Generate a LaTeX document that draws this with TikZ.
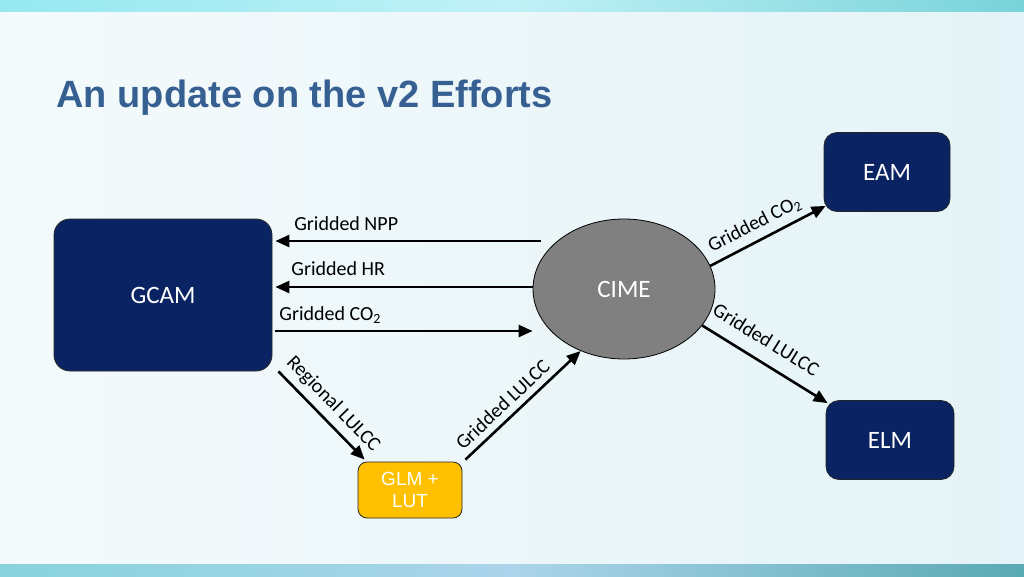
\documentclass[tikz,border=0pt]{standalone}
\usepackage{fontspec}
\setmainfont{Carlito}
\newfontfamily\arialfont{Liberation Sans}
\usetikzlibrary{arrows.meta,calc,shapes.geometric}
\definecolor{navybox}{RGB}{10,36,99}
\definecolor{cimegray}{RGB}{128,128,128}
\definecolor{glmamber}{RGB}{255,192,0}
\definecolor{titleblue}{RGB}{55,96,146}
\definecolor{bgpale}{RGB}{228,243,247}
\definecolor{bandtop}{RGB}{150,232,240}
\definecolor{bandbot}{RGB}{105,200,210}

\begin{document}
\begin{tikzpicture}[x=1pt, y=-1pt,
  every node/.style={font=\fontsize{20}{24}\selectfont},
  model/.style={draw=black!85, line width=0.8pt, fill=navybox, rounded corners=13pt, text=white, font=\fontsize{25}{30}\selectfont},
  flow/.style={line width=2.6pt, -{Triangle[length=14pt,width=12pt]}},
  lbl/.style={sloped, above}]
	\useasboundingbox (0,0) rectangle (1024,576);
	\shade[left color=white!60!bgpale, right color=bgpale] (0,0) rectangle (1024,576);
	\shade[left color=bandtop, right color=bandtop!80!teal, middle color=bandtop!60!white] (0,0) rectangle (1024,11);
	\shade[left color=bandbot!80!white, right color=bandbot!85!black, middle color=blue!15!bandbot!50!white] (0,564) rectangle (1024,576);

	\node[anchor=base west, text=titleblue, font=\arialfont\bfseries\fontsize{38}{44}\selectfont] (title) at (53,107) {An update on the v2 Efforts};

	\node[model, rounded corners=16pt, minimum width=218pt, minimum height=152pt] (GCAM) at (163,295) {GCAM};
	\node[model, minimum width=126pt, minimum height=79pt] (EAM) at (887,172) {EAM};
	\node[model, minimum width=128pt, minimum height=79pt] (ELM) at (890,440) {ELM};
	\node[ellipse, draw=black, line width=0.8pt, fill=cimegray, text=white, inner sep=0pt, minimum width=182pt, minimum height=140pt, font=\fontsize{25}{30}\selectfont] (CIME) at (624,289) {CIME};
	\node[draw=black!85, line width=0.8pt, fill=glmamber, rounded corners=9pt, text=white, align=center, minimum width=104pt, minimum height=56pt, inner sep=0pt, font=\arialfont\fontsize{19}{22}\selectfont] (GLM) at (410,490) {GLM +\\LUT};

	\draw[flow] ($(CIME.west)+(8,-48)$) -- node[pos=0.733, above=6pt] {Gridded NPP} ($(GCAM.east)+(3,-54)$);
	\draw[flow] ($(CIME.west)+(0,-2)$) -- node[pos=0.756, above=7pt] {Gridded HR} ($(GCAM.east)+(3,-8)$);
	\draw[flow] ($(GCAM.east)+(3,36)$) -- node[pos=0.213, above=3pt] {Gridded CO\textsubscript{2}} ($(CIME.west)+(0,42)$);
	\draw[flow] ($(GCAM.south east)+(6,0)$) -- node[lbl, above=3pt] {Regional LULCC} ($(GLM.north west)+(7,-2)$);
	\draw[flow] ($(GLM.north east)+(3,-2)$) -- node[lbl, pos=0.41, above=3pt] {Gridded LULCC} (CIME.235);
	\draw[flow] (CIME.15) -- node[lbl, pos=0.45, above=3pt] {Gridded CO\textsubscript{2}} ($(EAM.south west)+(2,-6)$);
	\draw[flow] (CIME.-25) -- node[lbl, pos=0.42, above=10pt] {Gridded LULCC} ($(ELM.north west)+(2,3)$);
\end{tikzpicture}
\end{document}
